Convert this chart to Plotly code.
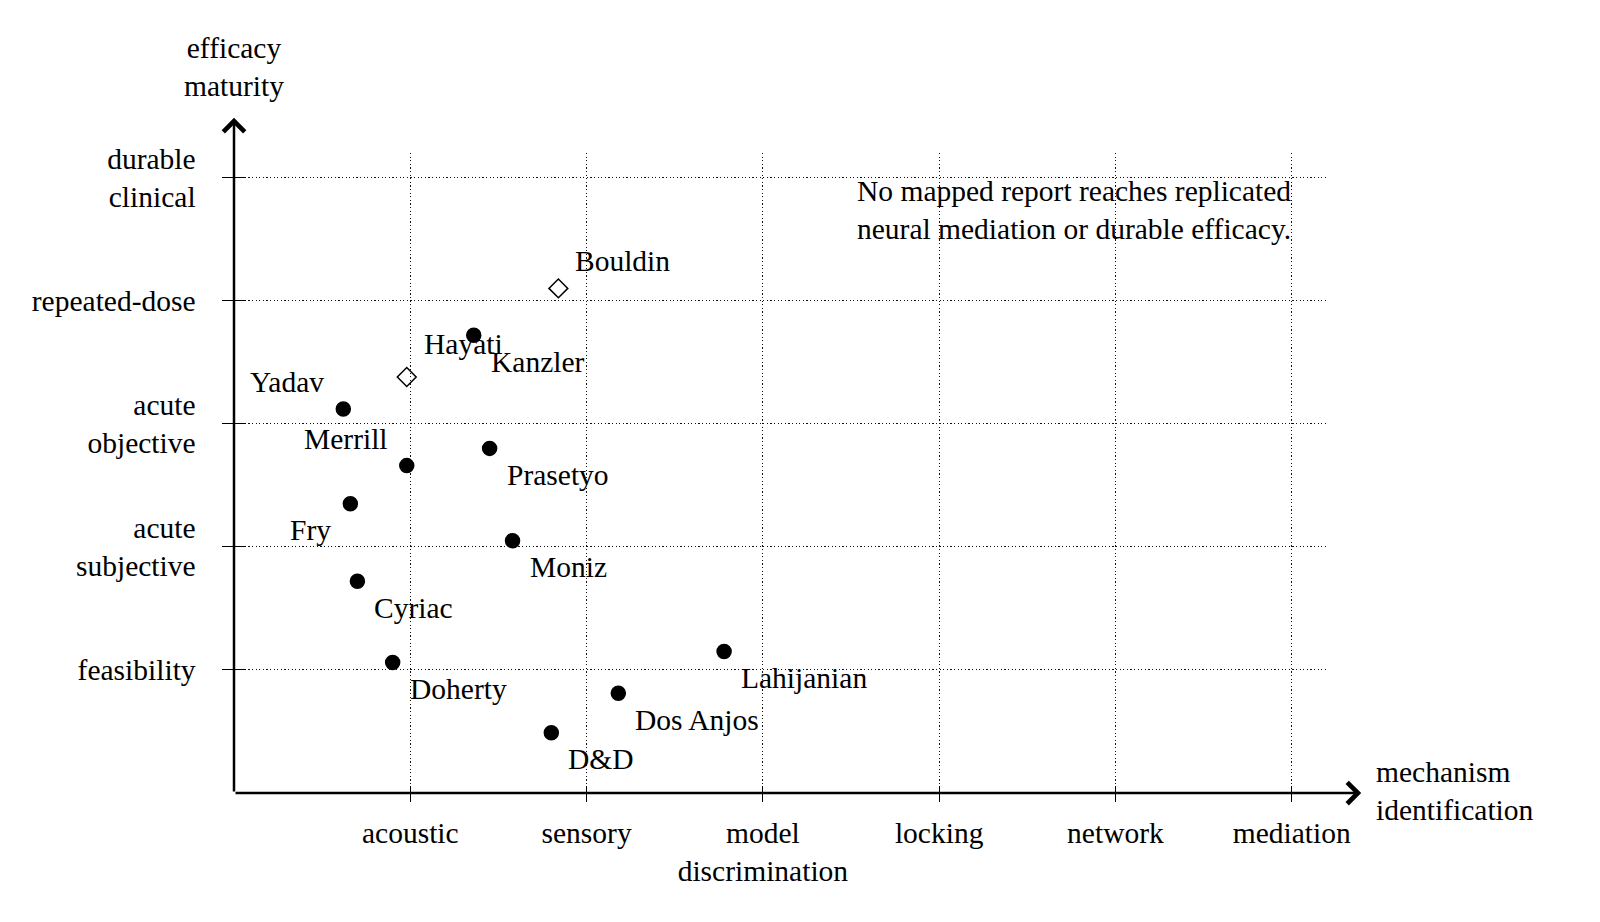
import plotly.graph_objects as go

# ---------------- data ----------------
x_categories = ["acoustic", "sensory", "model<br>discrimination", "locking", "network", "mediation"]
y_categories = ["feasibility", "acute<br>subjective", "acute<br>objective", "repeated-dose", "durable<br>clinical"]

reports = ["Bouldin", "Hayati", "Kanzler", "Yadav", "Merrill", "Prasetyo", "Fry",
           "Moniz", "Cyriac", "Doherty", "D&D", "Dos Anjos", "Lahijanian"]
mechanism = [1.84, 0.98, 1.36, 0.62, 0.98, 1.45, 0.66, 1.58, 0.70, 0.90, 1.80, 2.18, 2.78]
efficacy = [4.10, 3.38, 3.72, 3.12, 2.66, 2.80, 2.35, 2.05, 1.72, 1.06, 0.49, 0.81, 1.15]
report_group = ["B", "B", "A", "A", "A", "A", "A", "A", "A", "A", "A", "A", "A"]

note_text = "No mapped report reaches replicated<br>neural mediation or durable efficacy."
x_title = "mechanism<br>identification"
y_title = "efficacy<br>maturity"

# ---------------- styling ----------------
FONT = "Liberation Serif"
FS = 29.5
W, H = 1600, 922
X_MAX, Y_MAX = 6.2, 5.2          # grid extent
X_ARROW, Y_ARROW = 6.394, 5.486  # arrow tips
L, R, T, B = 233.5, 273.4, 153.1, 129.3

label_place = {"Bouldin": "ar", "Hayati": "ar", "Kanzler": "br", "Yadav": "al", "Merrill": "al",
               "Prasetyo": "br", "Fry": "bl", "Moniz": "br", "Cyriac": "br", "Doherty": "br",
               "D&D": "br", "Dos Anjos": "br", "Lahijanian": "br"}
symbol_map = {"A": "circle", "B": "diamond-open"}
size_map = {"A": 14, "B": 14.5}

fig = go.Figure()

for g in ["A", "B"]:
    idx = [i for i, k in enumerate(report_group) if k == g]
    fig.add_trace(go.Scatter(
        x=[mechanism[i] for i in idx], y=[efficacy[i] for i in idx],
        mode="markers", cliponaxis=False, showlegend=False, hoverinfo="skip",
        marker=dict(symbol=symbol_map[g], size=size_map[g], color="black",
                    line=dict(color="black", width=1.5)),
    ))

# invisible trace for the overlay axes (inner tick halves)
fig.add_trace(go.Scatter(x=[0], y=[0], xaxis="x2", yaxis="y2", mode="markers",
                         marker=dict(opacity=0), showlegend=False, hoverinfo="skip"))

annotations = []
desc = set("gjpqy")
for name, xv, yv in zip(reports, mechanism, efficacy):
    p = label_place[name]
    a = dict(x=xv, y=yv, xref="x", yref="y", text=name, showarrow=False,
             font=dict(family=FONT, size=FS, color="black"))
    if p[1] == "r":
        a.update(xanchor="left", xshift=15)
    else:
        a.update(xanchor="right", xshift=-17)
    if p[0] == "b":
        a.update(yanchor="top", yshift=-8.7)
    else:
        extra = 6 if any(c in desc for c in name) else 0
        a.update(yanchor="bottom", yshift=9.1 + extra)
    annotations.append(a)

# axis arrows
for tip in [(X_ARROW, 0), (0, Y_ARROW)]:
    annotations.append(dict(x=tip[0], y=tip[1], xref="x", yref="y", ax=0, ay=0, axref="x", ayref="y",
                            showarrow=True, arrowhead=4, arrowwidth=2.5, arrowsize=1.65,
                            arrowcolor="black", text=""))
# axis titles
annotations.append(dict(x=X_MAX, y=0, xref="x", yref="y", text=x_title, showarrow=False,
                        xanchor="left", yanchor="middle", align="left", xshift=47, yshift=2,
                        font=dict(family=FONT, size=FS, color="black")))
annotations.append(dict(x=0, y=Y_MAX, xref="x", yref="y", text=y_title, showarrow=False,
                        xanchor="center", yanchor="middle", align="center", yshift=86,
                        font=dict(family=FONT, size=FS, color="black")))
# note
annotations.append(dict(x=3.52, y=4.74, xref="x", yref="y", text=note_text, showarrow=False,
                        xanchor="left", yanchor="middle", align="left",
                        font=dict(family=FONT, size=FS, color="black")))

grid = dict(showgrid=True, gridcolor="#111", gridwidth=1, griddash="1.2px,2.4px",
            zeroline=False, showline=False)

fig.update_layout(
    width=W, height=H, autosize=False,
    paper_bgcolor="white", plot_bgcolor="white",
    margin=dict(l=L, r=R, t=T, b=B, pad=0, autoexpand=False),
    font=dict(family=FONT, size=FS, color="black"),
    xaxis=dict(range=[0, X_MAX], tickmode="array", tickvals=list(range(1, len(x_categories) + 1)),
               ticktext=x_categories, ticks="outside", ticklen=7.5, tickwidth=1.2, tickcolor="black",
               ticklabelstandoff=6, tickfont=dict(family=FONT, size=FS, color="black"), **grid),
    yaxis=dict(range=[0, Y_MAX], tickmode="array", tickvals=list(range(1, len(y_categories) + 1)),
               ticktext=y_categories, ticks="outside", ticklen=11.5, tickwidth=1.2, tickcolor="black",
               ticklabelstandoff=20, tickfont=dict(family=FONT, size=FS, color="black"), **grid),
    xaxis2=dict(overlaying="x", anchor="y2", range=[0, X_MAX], tickmode="array",
                tickvals=list(range(1, len(x_categories) + 1)), ticks="inside", ticklen=7.5,
                tickwidth=1.2, tickcolor="black", showticklabels=False, showgrid=False,
                zeroline=False, showline=False, side="bottom"),
    yaxis2=dict(overlaying="y", anchor="x2", range=[0, Y_MAX], tickmode="array",
                tickvals=list(range(1, len(y_categories) + 1)), ticks="inside", ticklen=11.5,
                tickwidth=1.2, tickcolor="black", showticklabels=False, showgrid=False,
                zeroline=False, showline=False, side="left"),
    annotations=annotations,
)

fig.write_html("out.html")
